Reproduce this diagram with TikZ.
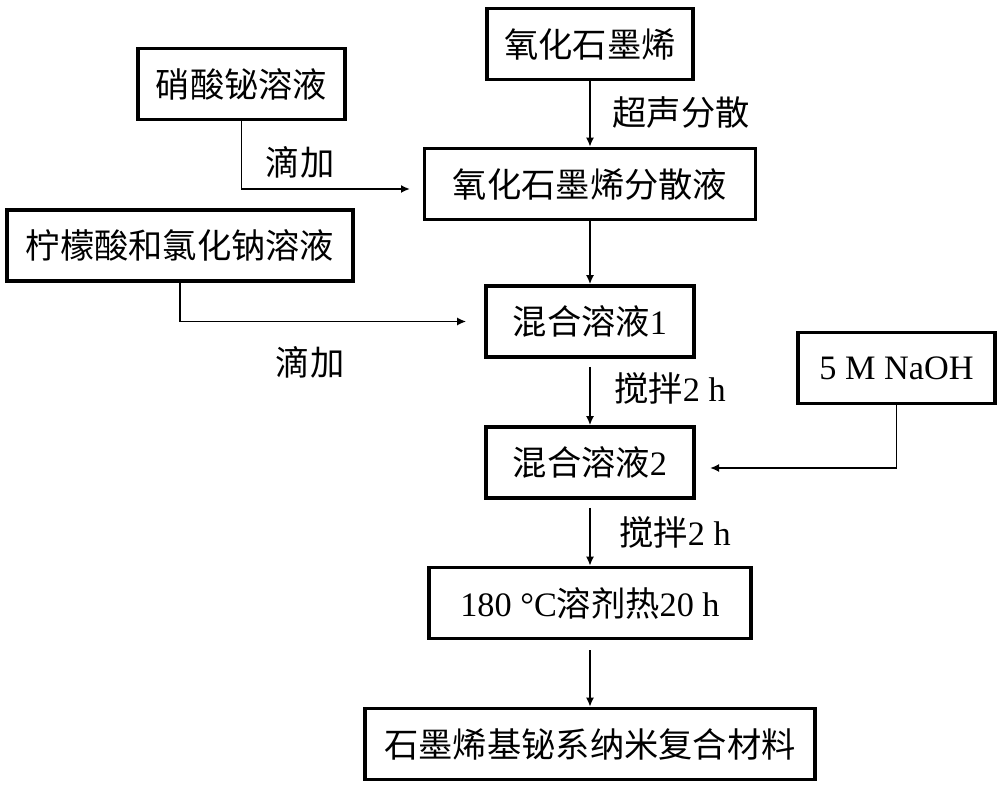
\documentclass[tikz,border=0pt]{standalone}
\usepackage{fontspec}
\setmainfont{Liberation Serif}
\newfontfamily\cjk{Noto Sans CJK SC}
\usetikzlibrary{arrows.meta}

\begin{document}
\begin{tikzpicture}[
    box/.style={draw, line width=2pt, minimum height=1.42cm, inner sep=0pt, font=\fontsize{19.5}{23}\selectfont},
    lbl/.style={font=\fontsize{19.5}{23}\selectfont},
    flow/.style={line width=1.1pt, arrows={-Latex[length=1.8mm, width=1.6mm]}}
  ]
          \useasboundingbox (0,0) rectangle (20,-15.74); % page frame

          \node [box, minimum width=4.12cm] (go) at (11.8,-0.88) {\cjk 氧化石墨烯}; % top of the main line
          \node [box, minimum width=4.14cm] (bin) at (4.83,-1.68) {\cjk 硝酸铋溶液};
          \node [box, minimum width=6.62cm] (disp) at (11.8,-3.68) {\cjk 氧化石墨烯分散液};
          \node [box, minimum width=6.92cm] (cit) at (3.6,-4.91) {\cjk 柠檬酸和氯化钠溶液};
          \node [box, minimum width=4.16cm] (mixa) at (11.8,-6.43) {{\cjk 混合溶液}1};
          \node [box, minimum width=3.94cm] (naoh) at (17.93,-7.36) {5 M NaOH};
          \node [box, minimum width=4.16cm] (mixb) at (11.8,-9.25) {{\cjk 混合溶液}2};
          \node [box, minimum width=6.44cm] (heat) at (11.8,-12.06) {180 °C{\cjk 溶剂热}20 h};
          \node [box, minimum width=9.0cm] (prod) at (11.8,-14.88) {\cjk 石墨烯基铋系纳米复合材料}; % end product

          \node [lbl] (sono) at (13.62,-2.26) {\cjk 超声分散};
          \node [lbl] (dropa) at (6.0,-3.24) {\cjk 滴加};
          \node [lbl] (dropb) at (6.2,-7.24) {\cjk 滴加};
          \node [lbl] (stira) at (13.4,-7.76) {{\cjk 搅拌}2 h};
          \node [lbl] (stirb) at (13.5,-10.64) {{\cjk 搅拌}2 h};

          \coordinate (ina) at (8.2,-3.78); % arrow tip left of disp
          \coordinate (inb) at (14.2,-9.36); % arrow tip right of mixb

          \draw [flow] (go) -- (disp);
          \draw [flow] (bin.south) |- (ina);
          \draw [flow] (disp) -- (mixa);
          \draw [flow, shorten >=0.36cm] (cit.south) |- (mixa.west);
          \draw [flow, shorten <=0.16cm] (mixa) -- (mixb);
          \draw [flow] (naoh.south) |- (inb);
          \draw [flow, shorten <=0.16cm] (mixb) -- (heat);
          \draw [flow, shorten <=0.2cm] (heat) -- (prod);
        \end{tikzpicture}
\end{document}
